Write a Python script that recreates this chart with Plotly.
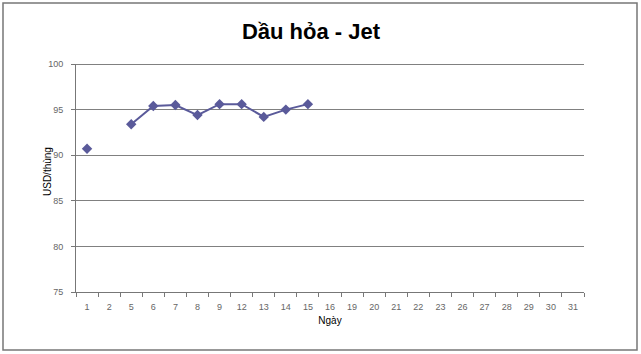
import plotly.graph_objects as go

days = ["1", "2", "5", "6", "7", "8", "9", "12", "13", "14", "15", "16", "19", "20",
        "21", "22", "23", "26", "27", "28", "29", "30", "31"]
prices = [90.7, None, 93.4, 95.4, 95.5, 94.4, 95.6, 95.6, 94.2, 95.0, 95.6] + [None] * 12

title_text = "Dầu hỏa - Jet"
x_title = "Ngày"
y_title = "USD/thùng"

L, R, T, B = 76, 584, 64, 292
W, H = 641, 354

fig = go.Figure()
fig.add_trace(go.Scatter(
    x=days, y=prices, mode="lines+markers",
    line=dict(color="#5a5a9a", width=2),
    marker=dict(symbol="diamond", size=8, color="#5a5a9a"),
    connectgaps=False, showlegend=False, cliponaxis=False,
))

pw, ph = R - L, B - T
fig.add_shape(type="rect", xref="paper", yref="paper",
              x0=(3 - L) / pw, x1=(637 - L) / pw,
              y0=(B - 350) / ph, y1=1 + (T - 3) / ph,
              line=dict(color="#777777", width=1.5), layer="below")
fig.add_shape(type="line", xref="paper", yref="y", x0=0, x1=1, y0=99.96, y1=99.96,
              line=dict(color="#808080", width=1.3), layer="below")
fig.add_annotation(text=y_title, xref="paper", yref="paper",
                   x=(47 - L) / pw, y=(B - 172) / ph, textangle=-90, showarrow=False,
                   xanchor="center", yanchor="middle",
                   font=dict(size=10, color="black"))

fig.update_layout(
    width=W, height=H,
    margin=dict(l=L, r=W - R, t=T, b=H - B),
    paper_bgcolor="white", plot_bgcolor="white",
    font=dict(family="Liberation Sans, Arial, sans-serif", size=9, color="#444444"),
    title=dict(text=title_text, x=311 / W, xanchor="center", y=1 - 31 / H, yanchor="middle",
               font=dict(size=22, color="black", family="Liberation Sans, Arial, sans-serif",
                         weight="bold")),
    xaxis=dict(type="category", categoryorder="array", categoryarray=days,
               tickson="boundaries", ticks="outside", ticklen=4, tickcolor="#777777",
               showline=True, linecolor="#777777", linewidth=1, showgrid=False,
               tickfont=dict(size=9, color="#666666"), ticklabelstandoff=6,
               title=dict(text=x_title, font=dict(size=10, color="black"), standoff=6),
               range=[-0.5, len(days) - 0.5], fixedrange=True),
    yaxis=dict(range=[75, 100], dtick=5, ticks="outside", ticklen=4, tickcolor="#777777",
               showline=True, linecolor="#777777", linewidth=1,
               showgrid=True, gridcolor="#808080", gridwidth=1, zeroline=False,
               tickfont=dict(size=9, color="#666666"), ticklabelstandoff=6),
)

fig.write_html("out.html")
